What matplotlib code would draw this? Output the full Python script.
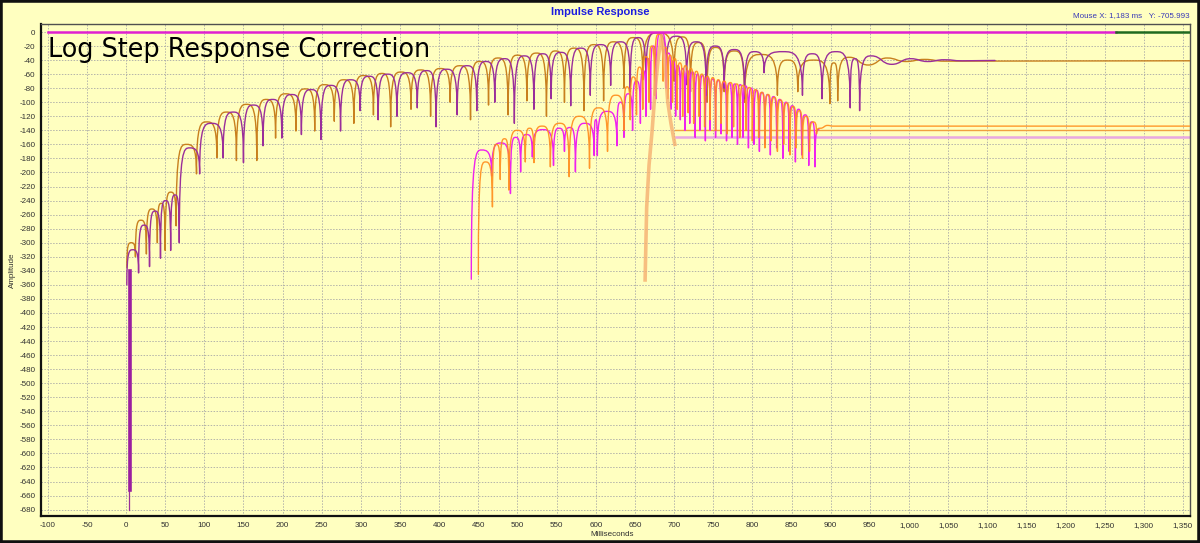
import numpy as np
import matplotlib
matplotlib.use("Agg")
import matplotlib.pyplot as plt
from matplotlib.path import Path
from matplotlib.patches import PathPatch, Rectangle
from matplotlib.ticker import FuncFormatter

# --- data (ms, dB) ---
# upper pair (purple / ochre): nulls, lobe tops between nulls, smooth tail
UP_NULL_X = [1, 16, 30, 44, 57, 68, 94, 124, 150, 175, 199, 224, 249, 274, 299, 322, 346, 372, 396, 423,
             448, 471, 496, 521, 543, 568, 593, 619, 644, 664, 690, 716, 741, 764, 790, 815, 864, 889, 925, 937]
UP_NULL_Y = [-360, -343, -334, -322, -311, -300, -202, -179, -186, -162, -151, -146, -153, -141, -112, -125, -120, -108, -135, -118,
             -112, -100, -130, -110, -95, -105, -90, -76, -85, -75, -60, -75, -90, -80, -95, -58, -90, -95, -108, -112]
UP_TOP_Y = [-310, -275, -255, -240, -232, -165, -130, -114, -104, -96, -89, -82, -76, -68, -63, -60, -58, -55, -53, -48,
            -42, -38, -34, -31, -29, -23, -18, -14, -8, -1, -6, -14, -20, -25, -28, -28, -31, -28, -38]
UP_TAIL_X = [952, 978, 1002, 1024, 1045, 1068, 1110]
UP_TAIL_Y = [-34, -46, -38, -42, -39.5, -41, -40.5]

UO_NULL_X = [1, 12, 26, 40, 50, 64, 90, 116, 141, 167, 191, 217, 241, 266, 291, 316, 338, 364, 389, 414,
             440, 463, 488, 512, 537, 560, 585, 610, 636, 660, 700, 721, 742, 764, 790, 832, 858, 899, 909]
UO_NULL_Y = [-335, -320, -316, -300, -311, -276, -202, -179, -183, -183, -151, -141, -141, -127, -130, -118, -135, -110, -120, -100,
             -125, -104, -118, -98, -120, -100, -112, -98, -80, -68, -70, -85, -100, -85, -100, -90, -85, -102, -98]
UO_TOP_Y = [-300, -268, -252, -244, -228, -160, -128, -114, -103, -96, -88, -81, -75, -68, -62, -59, -57, -54, -52, -48,
            -42, -37, -33, -30, -27, -23, -18, -14, -8, -1, -7, -15, -22, -27, -32, -40, -40, -44]
UO_TAIL_X = [924, 948, 972, 996, 1020, 1045, 1359]
UO_TAIL_Y = [-36, -47, -37, -42, -39, -41.5, -41]

# lower pair (magenta / orange)
LM_NULL_X = [441, 467, 491, 504, 519, 546, 560, 574, 598, 602, 627, 636, 647, 657, 664, 670, 677, 690, 696, 702,
             708, 714, 720, 727, 733, 740, 746, 753, 760, 767, 774, 781, 788, 795, 802, 809, 816, 823, 831, 839,
             847, 855, 863, 872, 880]
LM_NULL_Y = [-352, -205, -230, -199, -178, -190, -170, -199, -176, -176, -162, -150, -140, -130, -120, -110, -95, -80, -110, -120,
             -125, -140, -130, -150, -140, -155, -140, -150, -145, -155, -150, -160, -150, -165, -160, -170, -160, -175, -165, -180,
             -170, -185, -175, -190, -192]
LM_TOP_Y = [-168, -158, -150, -146, -139, -137, -136, -130, -125, -113, -100, -88, -70, -55, -38, -20, -1, -30, -42, -48,
            -52, -55, -57, -60, -62, -65, -67, -69, -71, -73, -74, -75, -77, -80, -83, -86, -89, -92, -96, -100,
            -105, -110, -118, -128]
LM_TAIL_X = [885]
LM_TAIL_Y = [-139]

LO_NULL_X = [450, 468, 478, 489, 510, 521, 542, 566, 592, 615, 636, 644, 652, 660, 668, 675, 686, 692, 698, 704,
             711, 718, 725, 732, 739, 746, 753, 760, 768, 776, 784, 792, 800, 808, 816, 824, 832, 840, 848, 856,
             864, 873, 882]
LO_NULL_Y = [-345, -249, -210, -225, -185, -186, -192, -206, -194, -170, -140, -125, -118, -110, -100, -90, -70, -95, -100, -110,
             -120, -115, -130, -120, -135, -125, -140, -130, -145, -135, -150, -140, -155, -150, -165, -155, -170, -160, -175, -165,
             -180, -170, -145]
LO_TOP_Y = [-185, -160, -152, -140, -137, -134, -130, -120, -108, -90, -78, -64, -50, -35, -20, -3, -22, -33, -38, -44,
            -48, -52, -56, -60, -63, -65, -68, -70, -72, -74, -76, -79, -82, -86, -89, -93, -97, -101, -106, -112,
            -120, -128]
LO_TAIL_X = [887, 896, 903, 1359]
LO_TAIL_Y = [-137, -133, -134, -134]

# light orange spike around the peak and its flat tails
PEACH_X = [663, 665, 668, 672, 676, 680, 684, 688, 692, 696, 701]
PEACH_Y = [-353, -250, -190, -140, -80, -35, -5, -40, -100, -130, -160]
FLAT_ORANGE = (701, 1359, -139)
FLAT_PINK = (702, 1359, -149)

# top line at 0 dB, magenta then dark green
TOP_LINE_X = [-100, 1265, 1359]
TOP_LINE_Y = 0

# spike at start
SPIKE_THICK = (5.3, -340, -652)
SPIKE_THIN = (3.4, -340, -681)

BG = "#FFFFC0"


def lobe_knots(nx, ny, tops, tx, ty):
    # nulls are cusps ('n'), tops / tail are smooth ('p')
    xs, ys, kinds = [], [], []
    for i in range(len(nx)):
        xs.append(nx[i]); ys.append(ny[i]); kinds.append('n')
        if i < len(tops):
            xs.append(0.5 * (nx[i] + nx[i + 1])); ys.append(tops[i]); kinds.append('p')
    for x, y in zip(tx, ty):
        xs.append(x); ys.append(y); kinds.append('p')
    return xs, ys, kinds


def lobe_path(xs, ys, kinds):
    verts = [(xs[0], ys[0])]
    codes = [Path.MOVETO]
    for i in range(1, len(xs)):
        xa, ya, ka = xs[i - 1], ys[i - 1], kinds[i - 1]
        xb, yb, kb = xs[i], ys[i], kinds[i]
        d = xb - xa
        if ka == 'n' and kb == 'p':
            c1 = (xa, yb); c2 = (xa + 0.45 * d, yb)
        elif ka == 'p' and kb == 'n':
            c1 = (xb - 0.45 * d, ya); c2 = (xb, ya)
        elif ka == 'p' and kb == 'p':
            c1 = (xa + 0.5 * d, ya); c2 = (xb - 0.5 * d, yb)
        else:
            c1 = (xa, ya); c2 = (xb, yb)
        verts += [c1, c2, (xb, yb)]
        codes += [Path.CURVE4] * 3
    return Path(verts, codes)


def draw_curve(ax, nx, ny, tops, tx, ty, color, lw=1.0, alpha=1.0, z=3):
    p = lobe_path(*lobe_knots(nx, ny, tops, tx, ty))
    ax.add_patch(PathPatch(p, facecolor="none", edgecolor=color, lw=lw, alpha=alpha,
                           zorder=z, joinstyle="round", capstyle="round"))


def main():
    fig = plt.figure(figsize=(12, 5.43), dpi=100)
    fig.patch.set_facecolor(BG)
    ax = fig.add_axes([40.7 / 1200, 1 - 516.3 / 543, (1190 - 40.7) / 1200, (516.3 - 24) / 543])
    ax.set_facecolor(BG)

    ax.set_xlim(-109, 1359)
    ax.set_ylim(-689.5, 11.4)

    ax.set_xticks(np.arange(-100, 1351, 50))
    ax.set_yticks(np.arange(-680, 1, 20))
    ax.xaxis.set_major_formatter(FuncFormatter(lambda v, p: f"{int(v):,}"))
    ax.yaxis.set_major_formatter(FuncFormatter(lambda v, p: f"{int(v)}"))
    ax.tick_params(length=0, labelsize=5.8, colors="#303030", pad=4)
    for lab in ax.get_xticklabels() + ax.get_yticklabels():
        lab.set_family("Liberation Sans")
    ax.grid(True, color="#B4B4AA", lw=0.7, ls=(0, (1.5, 1.5)))
    ax.set_axisbelow(True)

    for s in ["left", "bottom"]:
        ax.spines[s].set_linewidth(1.6)
        ax.spines[s].set_color("#101010")
    for s in ["top", "right"]:
        ax.spines[s].set_linewidth(1.0)
        ax.spines[s].set_color("#505050")

    # upper pair
    draw_curve(ax, UO_NULL_X, UO_NULL_Y, UO_TOP_Y, UO_TAIL_X, UO_TAIL_Y, "#C8801E", lw=1.0)
    draw_curve(ax, UP_NULL_X, UP_NULL_Y, UP_TOP_Y, UP_TAIL_X, UP_TAIL_Y, "#9A2E9A", lw=1.0)

    # flat tails behind the lower pair
    ax.plot([FLAT_PINK[0], FLAT_PINK[1]], [FLAT_PINK[2]] * 2, color="#E8A8E0", lw=1.8, zorder=2)
    ax.plot([FLAT_ORANGE[0], FLAT_ORANGE[1]], [FLAT_ORANGE[2]] * 2, color="#F0A040", lw=1.0, zorder=2)

    # lower pair
    draw_curve(ax, LM_NULL_X, LM_NULL_Y, LM_TOP_Y, LM_TAIL_X, LM_TAIL_Y, "#EE22EE", lw=1.0, z=4)
    draw_curve(ax, LO_NULL_X, LO_NULL_Y, LO_TOP_Y, LO_TAIL_X, LO_TAIL_Y, "#FF8C1A", lw=1.0, alpha=0.9, z=4)

    # light spike
    ax.plot(PEACH_X, PEACH_Y, color="#F6B070", lw=2.6, alpha=0.8, zorder=5, solid_joinstyle="round")

    # start spike
    ax.plot([SPIKE_THIN[0]] * 2, SPIKE_THIN[1:], color="#9A2E9A", lw=0.9, zorder=6)
    ax.plot([SPIKE_THICK[0]] * 2, SPIKE_THICK[1:], color="#9A1EA0", lw=2.6, zorder=6)

    # 0 dB line
    ax.plot(TOP_LINE_X[:2], [TOP_LINE_Y] * 2, color="#E020D0", lw=1.8, zorder=6)
    ax.plot(TOP_LINE_X[1:], [TOP_LINE_Y] * 2, color="#1F6A1F", lw=1.8, zorder=6)

    # texts
    fig.text(0.5, 1 - 12 / 543, "Impulse Response", ha="center", va="center", color="#1C1CE0",
             fontsize=8, fontweight="bold", family="Liberation Sans")
    fig.text(1190 / 1200, 1 - 16 / 543, "Mouse X: 1,183 ms   Y: -705.993", ha="right", va="center",
             color="#3838B8", fontsize=5.8, family="Liberation Sans")
    fig.text(48 / 1200, 1 - 57 / 543, "Log Step Response Correction", ha="left", va="baseline",
             color="black", fontsize=18.4, family="DejaVu Sans", zorder=10)
    fig.text(12 / 1200, 1 - 270 / 543, "Amplitude", rotation=90, ha="center", va="center",
             fontsize=5.8, color="#303030", family="Liberation Sans")
    fig.text(612 / 1200, 1 - 535 / 543, "Milliseconds", ha="center", va="center",
             fontsize=5.8, color="#303030", family="Liberation Sans")

    # outer frame
    fig.add_artist(Rectangle((0, 0), 1, 1, transform=fig.transFigure, fill=False,
                             edgecolor="#101010", lw=4))

    fig.savefig("out.png", dpi=100, facecolor=BG)


if __name__ == "__main__":
    main()
